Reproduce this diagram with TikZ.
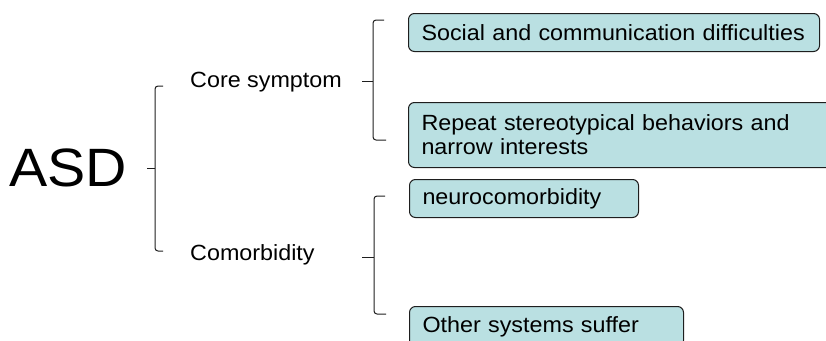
\documentclass[tikz,border=0pt]{standalone}
\usepackage{fontspec}
\setmainfont[FakeStretch=1.06]{Liberation Sans}
\definecolor{boxfill}{RGB}{186,224,226}
\definecolor{linec}{RGB}{30,30,30}
\tikzset{
  box/.style={draw=linec, fill=boxfill, line width=1pt, rounded corners=6pt,
    anchor=north west, inner xsep=13pt, inner ysep=0pt, align=left,
    font=\fontsize{22}{24}\selectfont},
  lbl/.style={anchor=west, inner sep=0pt, font=\fontsize{22}{24}\selectfont},
  brk/.style={draw=linec, line width=1pt, rounded corners=3pt},
  tick/.style={draw=linec, line width=1pt}
}
\begin{document}
\begin{tikzpicture}[x=1pt,y=-1pt]
\useasboundingbox (0,0) rectangle (826,340);
\clip (0,0) rectangle (826,340);
% main labels
\node[anchor=west, inner sep=0pt, font=\fontsize{54}{60}\selectfont] (asd) at (9,168) {ASD};
\node[lbl] (core) at (190,82) {Core symptom};
\node[lbl] (como) at (190,255) {Comorbidity};
% boxes
\node[box, text width=385pt, minimum height=38pt] (b1) at (408,13) {Social and communication difficulties};
\node[box, text width=406pt, minimum height=65pt] (b2) at (408,102) {Repeat stereotypical behaviors and\\narrow interests};
\node[box, text width=203pt, minimum height=38pt] (b3) at (409,179) {neurocomorbidity};
\node[box, text width=248pt, minimum height=40pt] (b4) at (409,306) {Other systems suffer};
% bracket ASD
\coordinate (a1) at (155,86);
\coordinate (a2) at (155,251);
\coordinate (am) at (155,168);
\draw[brk] (163,86) -- (a1) -- (a2) -- (163,251);
\draw[tick] (am) -- (147,168);
% bracket core
\coordinate (c1) at (373,20);
\coordinate (c2) at (373,140);
\coordinate (cm) at (373,81);
\draw[brk] (384,20) -- (c1) -- (c2) -- (386,140);
\draw[tick] (cm) -- (362,81);
% bracket comorbidity
\coordinate (d1) at (374,196);
\coordinate (d2) at (374,314);
\coordinate (dm) at (374,257);
\draw[brk] (385,196) -- (d1) -- (d2) -- (386,314);
\draw[tick] (dm) -- (362,257);
\end{tikzpicture}
\end{document}
